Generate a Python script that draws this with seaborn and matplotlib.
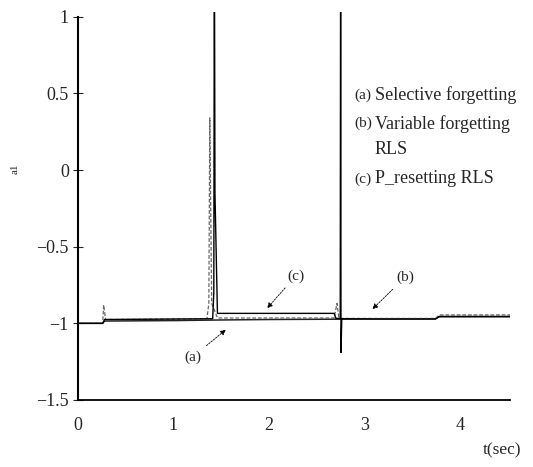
import pandas as pd
import seaborn as sns
import matplotlib
matplotlib.use("Agg")
import matplotlib.pyplot as plt

# values (breakpoints of each trace)
t_sel = [0.0, 0.26, 0.28, 1.0, 1.5, 2.0, 3.0, 3.74, 3.78, 4.52]
a1_sel = [-1.0, -1.0, -0.985, -0.982, -0.978, -0.975, -0.972, -0.97, -0.957, -0.957]

t_var = [0.0, 0.26, 0.27, 0.29, 1.0, 1.35, 1.37, 1.38, 1.40, 1.46, 2.0, 2.68, 2.71, 2.73, 2.76, 3.2,
         3.74, 3.78, 4.52]
a1_var = [-1.0, -1.0, -0.88, -0.975, -0.972, -0.97, -0.87, 0.34, -0.87, -0.965, -0.965, -0.965, -0.87,
          -0.965, -0.968, -0.968, -0.968, -0.945, -0.945]

t_pres = [0.0, 0.26, 0.28, 1.0, 1.41, 1.422, 1.428, 1.434, 1.46, 2.68, 2.70, 2.744, 2.748, 2.752,
          2.76, 3.2, 3.74, 3.78, 4.52]
a1_pres = [-1.0, -1.0, -0.975, -0.972, -0.97, -0.80, 1.6, -0.15, -0.935, -0.935, -0.968, -0.968, 1.6,
           -1.19, -0.97, -0.972, -0.972, -0.955, -0.955]

legend_tags = ["(a)", "(b)", "", "(c)"]
legend_lines = ["Selective forgetting", "Variable forgetting", "RLS", "P_resetting RLS"]

sns.set_style("white")
plt.rcParams['font.family'] = ['Liberation Serif', 'DejaVu Serif']

fig = plt.figure(figsize=(5.33, 4.67), dpi=100)
ax = fig.add_axes([0.146, 0.1435, 0.811, 0.8305])

df_sel = pd.DataFrame({'t': t_sel, 'a1': a1_sel})
df_var = pd.DataFrame({'t': t_var, 'a1': a1_var})
df_pres = pd.DataFrame({'t': t_pres, 'a1': a1_pres})

sns.lineplot(data=df_sel, x='t', y='a1', estimator=None, sort=False, color='#222222', lw=1.1, ax=ax)
sns.lineplot(data=df_var, x='t', y='a1', estimator=None, sort=False, color='#666666', lw=0.9,
             ls=(0, (3, 1.5)), ax=ax)
sns.lineplot(data=df_pres, x='t', y='a1', estimator=None, sort=False, color='black', lw=1.0, ax=ax)

ax.set_xlim(0, 4.52)
ax.set_ylim(-1.5, 1.03)
ax.set_xticks([0, 1, 2, 3, 4])
ax.set_yticks([1, 0.5, 0, -0.5, -1, -1.5])
ax.set_xticklabels(['0', '1', '2', '3', '4'])
ax.set_yticklabels(['1', '0.5', '0', '\u22120.5', '\u22121', '\u22121.5'])
ax.tick_params(axis='y', direction='inout', length=7, width=0.8, labelsize=13, pad=3, left=True)
ax.tick_params(axis='x', length=0, labelsize=13, pad=12)

for s in ['top', 'right']:
    ax.spines[s].set_visible(False)
ax.spines['left'].set_bounds(-1.5, 1)
ax.spines['left'].set_linewidth(1.5)
ax.spines['bottom'].set_linewidth(1.3)
ax.spines['left'].set_color('black')
ax.spines['bottom'].set_color('black')

ax.set_xlabel('')
ax.set_ylabel('')
fig.text(0.028, 0.638, 'a1', rotation=90, fontsize=8, ha='center', va='center')
fig.text(0.978, 0.035, 't(sec)', fontsize=12.5, ha='right', va='center')

# legend written as plain text on the right
legend_y = [0.797, 0.735, 0.68, 0.617]
for tag, txt, yy in zip(legend_tags, legend_lines, legend_y):
    fig.text(0.664, yy, tag, fontsize=11, ha='left', va='center')
    fig.text(0.703, yy, txt, fontsize=13, ha='left', va='center')

arr = dict(arrowstyle='-|>', color='black', lw=0.6, ls=(0, (2, 1.5)), mutation_scale=8)
ax.annotate('(c)', xy=(1.96, -0.915), xytext=(2.28, -0.69), fontsize=11, ha='center', va='center',
            arrowprops=arr)
ax.annotate('(b)', xy=(3.06, -0.92), xytext=(3.42, -0.70), fontsize=11, ha='center', va='center',
            arrowprops=arr)
ax.annotate('(a)', xy=(1.57, -1.03), xytext=(1.20, -1.22), fontsize=11, ha='center', va='center',
            arrowprops=arr)

plt.savefig('out.png', dpi=100)
